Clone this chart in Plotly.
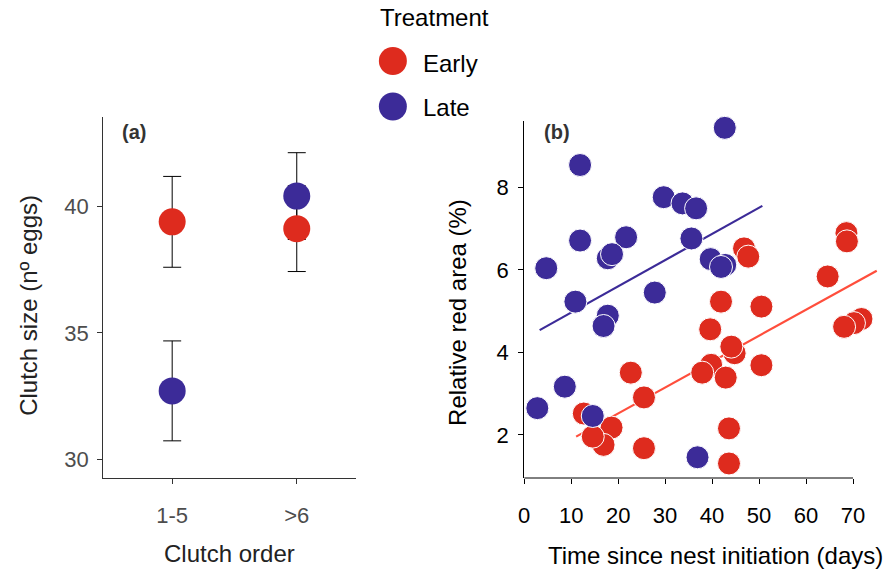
import plotly.graph_objects as go

W, H = 886, 571

# ---------------- data ----------------
clutch_order = ["1-5", ">6"]
early_clutch = [39.40, 39.13]
early_clutch_se = [1.80, 1.70]
late_clutch = [32.70, 40.42]
late_clutch_se = [1.98, 1.72]

late_days = [42.7, 11.9, 29.7, 33.7, 36.6, 11.9, 21.7, 17.8, 18.7, 35.6, 4.7, 39.7,
             42.8, 41.9, 10.9, 27.8, 17.8, 16.9, 8.65, 2.8, 14.6, 36.9]
late_red = [9.44, 8.54, 7.76, 7.61, 7.49, 6.71, 6.79, 6.28, 6.38, 6.76, 6.04, 6.26,
            6.12, 6.07, 5.23, 5.45, 4.89, 4.64, 3.17, 2.65, 2.46, 1.46]

early_days = [68.6, 68.7, 46.8, 47.7, 64.6, 41.9, 50.5, 71.8, 70.2, 68.1, 39.6, 44.8,
              44.1, 39.8, 37.9, 42.9, 50.5, 22.7, 25.5, 12.7, 18.6, 16.9, 14.6, 25.5,
              43.6, 43.6]
early_red = [6.89, 6.69, 6.52, 6.32, 5.84, 5.23, 5.11, 4.81, 4.71, 4.62, 4.56, 3.98,
             4.14, 3.70, 3.51, 3.39, 3.69, 3.51, 2.91, 2.52, 2.18, 1.76, 1.96, 1.68,
             2.16, 1.31]

fit_late_x = [3.3, 50.7]
fit_late_y = [4.54, 7.55]
fit_early_x = [11.06, 75.05]
fit_early_y = [1.96, 5.98]

b_xticks = [0, 10, 20, 30, 40, 50, 60, 70]
b_yticks = [2, 4, 6, 8]
a_yticks = [30, 35, 40]

RED = "#DE2B1E"
BLUE = "#3C2B98"
RED_LINE = "#FF4E3C"
FONT = "Liberation Sans, Arial, sans-serif"


def px(x):
    return x / W


def py(y):
    return 1 - y / H


fig = go.Figure()

# ---- panel (a): error bars first (under markers) ----
for vals, se in [(early_clutch, early_clutch_se), (late_clutch, late_clutch_se)]:
    fig.add_trace(go.Scatter(
        x=clutch_order, y=vals, mode="markers",
        marker=dict(size=1, color="rgba(0,0,0,0)"),
        error_y=dict(type="data", array=se, visible=True, color="black",
                     thickness=1, width=9),
        xaxis="x", yaxis="y", showlegend=False, hoverinfo="skip"))
for vals, col in [(early_clutch, RED), (late_clutch, BLUE)]:
    fig.add_trace(go.Scatter(
        x=clutch_order, y=vals, mode="markers",
        marker=dict(size=27, color=col, line=dict(width=0)),
        xaxis="x", yaxis="y", showlegend=False, cliponaxis=False))

# ---- panel (b) ----
fig.add_trace(go.Scatter(x=fit_late_x, y=fit_late_y, mode="lines",
                         line=dict(color=BLUE, width=2.2),
                         xaxis="x2", yaxis="y2", showlegend=False))
fig.add_trace(go.Scatter(x=fit_early_x, y=fit_early_y, mode="lines",
                         line=dict(color=RED_LINE, width=2.2),
                         xaxis="x2", yaxis="y2", showlegend=False))
fig.add_trace(go.Scatter(x=early_days, y=early_red, mode="markers",
                         marker=dict(size=23, color=RED, line=dict(color="white", width=1)),
                         xaxis="x2", yaxis="y2", showlegend=False, cliponaxis=False))
fig.add_trace(go.Scatter(x=late_days, y=late_red, mode="markers",
                         marker=dict(size=23, color=BLUE, line=dict(color="white", width=1)),
                         xaxis="x2", yaxis="y2", showlegend=False, cliponaxis=False))

tickfont_a = dict(family=FONT, size=22, color="#4D4D4D")
tickfont_b = dict(family=FONT, size=22, color="black")

fig.update_layout(
    width=W, height=H, autosize=False,
    margin=dict(l=0, r=0, t=0, b=0),
    paper_bgcolor="white", plot_bgcolor="white",
    font=dict(family=FONT),
    xaxis=dict(domain=[px(97.7), px(352.7)], type="category",
               categoryorder="array", categoryarray=clutch_order,
               range=[-0.555, 1.478], showgrid=False, zeroline=False,
               showline=True, linecolor="#333333", linewidth=1,
               ticks="outside", ticklen=5, tickcolor="#333333",
               tickfont=tickfont_a, ticklabelstandoff=13, anchor="y"),
    yaxis=dict(domain=[py(478), py(117)], range=[29.247, 43.555],
               tickvals=a_yticks, showgrid=False, zeroline=False,
               showline=True, linecolor="#333333", linewidth=1,
               ticks="outside", ticklen=5, tickcolor="#333333",
               tickfont=tickfont_a, ticklabelstandoff=4, anchor="x"),
    xaxis2=dict(domain=[px(521.7), px(878)], range=[0, 75.33],
                tickvals=b_xticks, showgrid=False, zeroline=False,
                showline=False, ticks="outside", ticklen=5, tickcolor="black",
                tickfont=tickfont_b, ticklabelstandoff=13, anchor="y2"),
    yaxis2=dict(domain=[py(478), py(120.7)], range=[0.958, 9.613],
                tickvals=b_yticks, showgrid=False, zeroline=False,
                showline=True, linecolor="black", linewidth=1,
                ticks="outside", ticklen=5, tickcolor="black",
                tickfont=tickfont_b, ticklabelstandoff=5, anchor="x2"),
)

# x-axis line of panel (b) spanning 0..70 only
fig.add_shape(type="line", xref="x2", yref="y2 domain", x0=b_xticks[0], x1=b_xticks[-1],
              y0=0, y1=0, line=dict(color="black", width=1))

# legend (manual)
for yc, col in [(61, RED), (106.5, BLUE)]:
    fig.add_shape(type="circle", xref="paper", yref="paper",
                  xsizemode="pixel", ysizemode="pixel",
                  xanchor=px(389.5), yanchor=py(yc),
                  x0=-14, x1=14, y0=-14, y1=14,
                  fillcolor=col, line=dict(width=0))

ann = [
    dict(text="Treatment", x=px(375), y=py(18), xanchor="left", yanchor="middle",
         font=dict(size=24, color="black")),
    dict(text="Early", x=px(417.5), y=py(63), xanchor="left", yanchor="middle",
         font=dict(size=24, color="black")),
    dict(text="Late", x=px(417.5), y=py(107), xanchor="left", yanchor="middle",
         font=dict(size=24, color="black")),
    dict(text="<b>(a)</b>", x=px(129), y=py(132), xanchor="center", yanchor="middle",
         font=dict(size=20, color="#333333")),
    dict(text="<b>(b)</b>", x=px(555), y=py(132), xanchor="center", yanchor="middle",
         font=dict(size=20, color="#333333")),
    dict(text="Clutch order", x=px(225), y=py(553), xanchor="center", yanchor="middle",
         font=dict(size=24, color="#222222")),
    dict(text="Clutch size (nº eggs)", x=px(22), y=py(305), xanchor="center",
         yanchor="middle", textangle=-90, font=dict(size=24, color="#222222")),
    dict(text="Relative red area (%)", x=px(455), y=py(312), xanchor="center",
         yanchor="middle", textangle=-90, font=dict(size=24, color="black")),
    dict(text="Time since nest initiation (days)", x=px(714), y=py(555),
         xanchor="center", yanchor="middle", font=dict(size=24, color="black")),
]
for a in ann:
    a.update(xref="paper", yref="paper", showarrow=False)
    a["font"]["family"] = FONT
    fig.add_annotation(**a)

fig.write_html("out.html",
               config={"displayModeBar": False},
               post_script="document.body.style.margin='0';"
                           "document.body.style.overflow='hidden';")
